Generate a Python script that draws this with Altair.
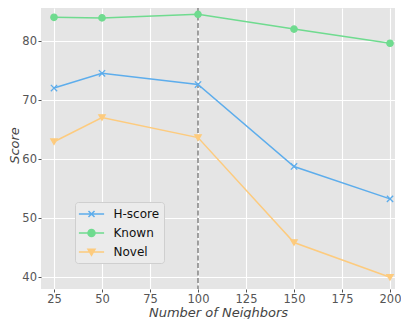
import altair as alt
import pandas as pd

neighbors = [25, 50, 100, 150, 200]
hscore = [72.1, 74.6, 72.7, 58.8, 53.3]
known = [84.1, 84.0, 84.6, 82.1, 79.7]
novel = [63.0, 67.1, 63.7, 45.9, 40.0]

series_names = ["H-score", "Known", "Novel"]
series_colors = ["#5DADEC", "#6FDB8F", "#FDCB7E"]
x_ticks = [25, 50, 75, 100, 125, 150, 175, 200]
y_ticks = [40, 50, 60, 70, 80]
marked_k = [100]

rows = []
for name, vals in zip(series_names, [hscore, known, novel]):
    for n, v in zip(neighbors, vals):
        rows.append({"neighbors": n, "score": v, "series": name})
df = pd.DataFrame(rows)

x_path = "M-1,-1L1,1M-1,1L1,-1"
marker_range = [x_path, "circle", "triangle-down"]
legend_range = [
    "M-1.8,0L1.8,0M-0.43,-0.43L0.43,0.43M-0.43,0.43L0.43,-0.43",
    "M-1.8,0L1.8,0M0.5,0A0.5,0.5,0,1,1,-0.5,0A0.5,0.5,0,1,1,0.5,0Z",
    "M-1.8,0L1.8,0M-0.5,-0.4L0.5,-0.4L0,0.45Z",
]

W, H = 354, 281
xs = alt.Scale(domain=[18.23, 202.6], nice=False, zero=False)
ys = alt.Scale(domain=[38.02, 85.68], nice=False, zero=False)
cscale = alt.Scale(domain=series_names, range=series_colors)

base = alt.Chart(df)

X = alt.X("neighbors:Q", scale=xs,
          axis=alt.Axis(values=x_ticks, title="Number of Neighbors",
                        titleX=W / 2, titleY=23, titleBaseline="middle", titleAlign="center"))
Y = alt.Y("score:Q", scale=ys,
          axis=alt.Axis(values=y_ticks, title="Score", titleFontSize=13,
                        titleX=-26.5, titleY=137, titleAngle=270,
                        titleBaseline="middle", titleAlign="center"))

vline = alt.Chart(pd.DataFrame({"k": marked_k})).mark_rule(
    color="#8a8a8a", strokeWidth=1.6, strokeDash=[5, 2.5]
).encode(x=alt.X("k:Q", scale=xs))

lines = base.mark_line(strokeWidth=1.5).encode(
    x=X, y=Y,
    color=alt.Color("series:N", scale=cscale, legend=None),
)

points = base.mark_point(filled=False, opacity=1, strokeWidth=1.3, size=40).encode(
    x=X, y=Y,
    color=alt.Color("series:N", scale=cscale, legend=None),
    fill=alt.Fill("series:N", scale=cscale, legend=None),
    shape=alt.Shape("series:N", scale=alt.Scale(domain=series_names, range=marker_range), legend=None),
)

leg = alt.Legend(
    title=None, orient="none", legendX=34, legendY=194,
    padding=4, fillColor="#ebebeb", strokeColor="#cfcfcf", cornerRadius=3,
    labelFont="DejaVu Sans", labelFontSize=12, labelColor="#111111",
    labelOffset=14, symbolSize=196, symbolOffset=4.5, rowPadding=4,
    symbolStrokeWidth=1.5,
)

legend_layer = base.transform_calculate(key="datum.series").transform_filter("false").mark_point(
    filled=False, opacity=1
).encode(
    x=X, y=Y,
    color=alt.Color("key:N", scale=cscale, legend=leg),
    fill=alt.Fill("key:N", scale=cscale, legend=leg),
    shape=alt.Shape("key:N", scale=alt.Scale(domain=series_names, range=legend_range), legend=leg),
)

chart = alt.layer(vline, lines, points, legend_layer).resolve_scale(
    color="independent", fill="independent", shape="independent"
).properties(
    width=W, height=H,
    autosize=alt.AutoSizeParams(type="none"),
    padding={"left": 33, "top": 0, "right": 6, "bottom": 30},
    background="white",
).configure_view(
    fill="#e5e5e5", stroke=None
).configure_axis(
    domain=False, grid=True, gridColor="white", gridWidth=1.1,
    tickColor="#555555", tickSize=3, tickWidth=1,
    labelColor="#555555", labelFontSize=11.5, labelFont="DejaVu Sans", labelPadding=1.5,
    titleFont="DejaVu Sans", titleFontSize=13, titleFontStyle="italic",
    titleFontWeight="normal", titleColor="#444444",
)

chart.save("out.html", embed_options={"renderer": "svg", "actions": False})
